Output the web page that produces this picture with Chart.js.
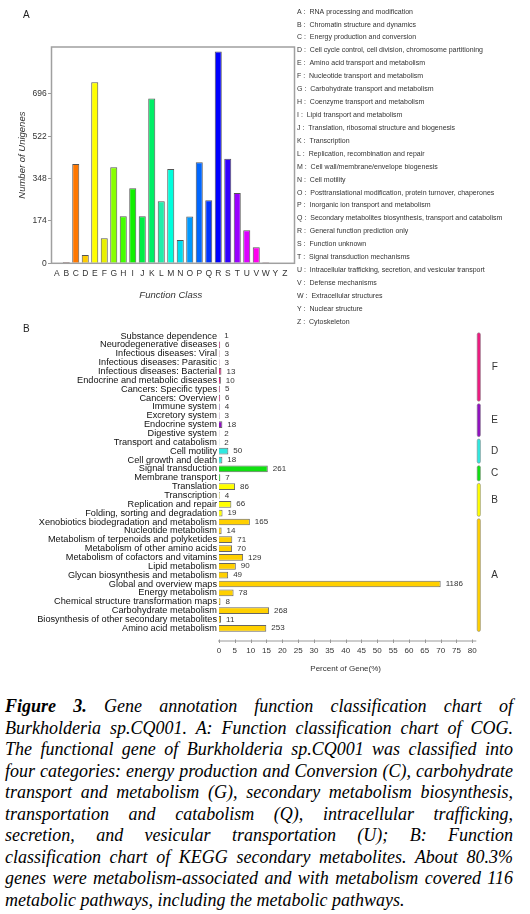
<!DOCTYPE html>
<html>
<head>
<meta charset="utf-8">
<script src="https://cdn.jsdelivr.net/npm/chart.js@4.4.0/dist/chart.umd.min.js"></script>
<style>
  html, body { margin: 0; padding: 0; background: #fff; }
  body { width: 530px; height: 914px; position: relative; overflow: hidden; }
  #cogWrap { position: absolute; left: 0; top: 0; width: 530px; height: 330px; }
  #keggWrap { position: absolute; left: 0; top: 320px; width: 530px; height: 360px; }
  #caption { position: absolute; left: 5px; top: 696px; width: 508px;
    font-family: "Liberation Serif", "Times New Roman", serif; font-style: italic;
    font-size: 18px; line-height: 21.5px; color: #000; }
  #caption div { text-align: justify; text-align-last: justify; }
  #caption div.last { text-align-last: left; }
</style>
</head>
<body>
<div id="cogWrap"><canvas id="cogChart"></canvas></div>
<div id="keggWrap"><canvas id="keggChart"></canvas></div>
<div id="caption">
  <div><b>Figure 3.</b> Gene annotation function classification chart of</div>
  <div>Burkholderia sp.CQ001. A: Function classification chart of COG.</div>
  <div>The functional gene of Burkholderia sp.CQ001 was classified into</div>
  <div>four categories: energy production and Conversion (C), carbohydrate</div>
  <div>transport and metabolism (G), secondary metabolism biosynthesis,</div>
  <div>transportation and catabolism (Q), intracellular trafficking,</div>
  <div>secretion, and vesicular transportation (U); B: Function</div>
  <div>classification chart of KEGG secondary metabolites. About 80.3%</div>
  <div>genes were metabolism-associated and with metabolism covered 116</div>
  <div class="last">metabolic pathways, including the metabolic pathways.</div>
</div>
<script>
// --- panel A: COG classes ---
const cogLetters = ['A','B','C','D','E','F','G','H','I','J','K','L','M','N','O','P','Q','R','S','T','U','V','W','Y','Z'];
const cogCounts = [2, 5, 408, 34, 744, 103, 395, 193, 308, 193, 677, 255, 388, 96, 192, 415, 259, 871, 430, 289, 136, 66, 4, 0, 0];
const cogTicks = [0, 174, 348, 522, 696];
const cogDescriptions = [
  'RNA processing and modification',
  'Chromatin structure and dynamics',
  'Energy production and conversion',
  'Cell cycle control, cell division, chromosome partitioning',
  'Amino acid transport and metabolism',
  'Nucleotide transport and metabolism',
  'Carbohydrate transport and metabolism',
  'Coenzyme transport and metabolism',
  'Lipid transport and metabolism',
  'Translation, ribosomal structure and biogenesis',
  'Transcription',
  'Replication, recombination and repair',
  'Cell wall/membrane/envelope biogenesis',
  'Cell motility',
  'Posttranslational modification, protein turnover, chaperones',
  'Inorganic ion transport and metabolism',
  'Secondary metabolites biosynthesis, transport and catabolism',
  'General function prediction only',
  'Function unknown',
  'Signal transduction mechanisms',
  'Intracellular trafficking, secretion, and vesicular transport',
  'Defense mechanisms',
  'Extracellular structures',
  'Nuclear structure',
  'Cytoskeleton'
];

// --- panel B: KEGG pathways ---
const keggLabels = [
  'Substance dependence', 'Neurodegenerative diseases', 'Infectious diseases: Viral',
  'Infectious diseases: Parasitic', 'Infectious diseases: Bacterial', 'Endocrine and metabolic diseases',
  'Cancers: Specific types', 'Cancers: Overview',
  'Immune system', 'Excretory system', 'Endocrine system', 'Digestive system',
  'Transport and catabolism', 'Cell motility', 'Cell growth and death',
  'Signal transduction', 'Membrane transport',
  'Translation', 'Transcription', 'Replication and repair', 'Folding, sorting and degradation',
  'Xenobiotics biodegradation and metabolism', 'Nucleotide metabolism',
  'Metabolism of terpenoids and polyketides', 'Metabolism of other amino acids',
  'Metabolism of cofactors and vitamins', 'Lipid metabolism', 'Glycan biosynthesis and metabolism',
  'Global and overview maps', 'Energy metabolism', 'Chemical structure transformation maps',
  'Carbohydrate metabolism', 'Biosynthesis of other secondary metabolites', 'Amino acid metabolism'
];
const keggCounts = [1, 6, 3, 3, 13, 10, 5, 6, 4, 3, 18, 2, 2, 50, 18, 261, 7, 86, 4, 66, 19,
  165, 14, 71, 70, 129, 90, 49, 1186, 78, 8, 268, 11, 253];
const keggTotalGenes = 1694;   // 1186 genes = 70 %
const keggClasses = ['F', 'E', 'D', 'C', 'B', 'A'];
const keggClassSizes = [8, 4, 3, 2, 4, 13];
const keggTicks = [0, 5, 10, 15, 20, 25, 30, 35, 40, 45, 50, 55, 60, 65, 70, 75, 80];

const FONT = '"Liberation Sans", Arial, sans-serif';
const cogColors = ['#8b1010','#a02a2a','#ff7700','#ffcc00','#ffff00','#e8f000','#88ff00','#44ff00',
  '#11f000','#00ee44','#00ee66','#22eeaa','#00ffdd','#00ddee','#0099ff','#0066ff','#0033ff',
  '#0000ff','#3300ff','#9900ff','#dd00ff','#ff00ee','#880033','#cccccc','#cccccc'];
const classColors = { F: '#ee1a80', E: '#9010c0', D: '#30e8e0', C: '#10e010', B: '#ffff00', A: '#ffd000' };

const keggRowClass = [];
keggClasses.forEach((c, g) => { for (let i = 0; i < keggClassSizes[g]; i++) keggRowClass.push(c); });
const keggPercent = keggCounts.map(v => v / keggTotalGenes * 100);

// frame, panel letter and class descriptions for A
const cogDecor = {
  id: 'cogDecor',
  afterDraw(chart) {
    const ctx = chart.ctx, a = chart.chartArea;
    ctx.save();
    ctx.strokeStyle = '#a0a0a0';
    ctx.lineWidth = 1.5;
    ctx.strokeRect(a.left - 0.5, a.top, a.right + 5 - a.left + 0.5, a.bottom - a.top);
    ctx.fillStyle = '#222';
    ctx.font = '10px ' + FONT;
    ctx.textAlign = 'center';
    ctx.textBaseline = 'middle';
    ctx.fillText('A', 26.3, 15);
    ctx.font = '7px ' + FONT;
    ctx.textAlign = 'left';
    ctx.fillStyle = '#333';
    cogLetters.forEach((l, i) => {
      ctx.fillText(l + ' :  ' + cogDescriptions[i], 297, 11.7 + i * 12.92);
    });
    ctx.restore();
  }
};

// value labels, axis line, class brackets for B
const keggDecor = {
  id: 'keggDecor',
  afterDraw(chart) {
    const ctx = chart.ctx, a = chart.chartArea, x = chart.scales.x, y = chart.scales.y;
    const meta = chart.getDatasetMeta(0);
    ctx.save();
    ctx.font = '8px ' + FONT;
    ctx.fillStyle = '#333';
    ctx.textAlign = 'left';
    ctx.textBaseline = 'middle';
    meta.data.forEach((bar, i) => ctx.fillText(String(keggCounts[i]), bar.x + 5, bar.y));

    const axisY = a.bottom + 8.3;
    ctx.strokeStyle = '#999';
    ctx.lineWidth = 1;
    ctx.beginPath();
    ctx.moveTo(a.left - 1, axisY);
    ctx.lineTo(a.right + 4, axisY);
    x.ticks.forEach(t => {
      const px = Math.round(x.getPixelForValue(t.value)) + 0.5;
      ctx.moveTo(px, axisY - 1.5);
      ctx.lineTo(px, axisY + 2);
    });
    ctx.stroke();

    let start = 0;
    keggClasses.forEach((cls, g) => {
      const end = start + keggClassSizes[g] - 1;
      const top = y.getPixelForValue(start) - 3.2;
      const bottom = y.getPixelForValue(end) + 3.2;
      const bx = a.right + 4.9, bw = 3.2;
      ctx.beginPath();
      ctx.roundRect(bx, top, bw, bottom - top, 1.6);
      ctx.fillStyle = classColors[cls];
      ctx.fill();
      ctx.strokeStyle = '#888';
      ctx.lineWidth = 0.6;
      ctx.stroke();
      ctx.fillStyle = '#333';
      ctx.font = '10px ' + FONT;
      ctx.textAlign = 'center';
      ctx.fillText(cls, a.right + 22.4, (top + bottom) / 2);
      start = end + 1;
    });

    ctx.fillStyle = '#222';
    ctx.font = '10px ' + FONT;
    ctx.fillText('B', 26.3, 9.3);
    ctx.restore();
  }
};

new Chart(document.getElementById('cogChart'), {
  type: 'bar',
  data: {
    labels: cogLetters,
    datasets: [{
      data: cogCounts,
      backgroundColor: cogColors,
      borderColor: '#555',
      borderWidth: 1,
      barPercentage: 0.74,
      categoryPercentage: 1
    }]
  },
  options: {
    responsive: true,
    maintainAspectRatio: false,
    animation: false,
    layout: { padding: { left: 0, top: 47, right: 240.5, bottom: 0 } },
    plugins: { legend: { display: false }, tooltip: { enabled: false } },
    scales: {
      x: {
        grid: { display: false, drawTicks: false },
        border: { display: false },
        ticks: { color: '#333', font: { size: 8.5, family: FONT }, padding: 5.6, autoSkip: false, maxRotation: 0 },
        title: { display: true, text: 'Function Class', color: '#333', align: 'center',
          font: { size: 9.5, style: 'italic', family: FONT }, padding: { top: 0, bottom: 28.6 } },
        afterFit: s => { s.height = 66.7; }
      },
      y: {
        min: 0,
        max: 889,
        grid: { drawOnChartArea: false, drawTicks: true, tickLength: 4, color: '#999' },
        border: { display: false },
        ticks: { color: '#333', font: { size: 8.5, family: FONT }, padding: 1.3 },
        afterBuildTicks: s => { s.ticks = cogTicks.map(v => ({ value: v })); },
        title: { display: true, text: 'Number of Unigenes', color: '#333',
          font: { size: 9.5, style: 'italic', family: FONT }, padding: { top: 16.3, bottom: 0 } },
        afterFit: s => { s.width = 52; }
      }
    }
  },
  plugins: [cogDecor]
});

new Chart(document.getElementById('keggChart'), {
  type: 'bar',
  data: {
    labels: keggLabels,
    datasets: [{
      data: keggPercent,
      backgroundColor: keggRowClass.map(c => classColors[c]),
      borderColor: '#666',
      borderWidth: 1,
      barPercentage: 0.76,
      categoryPercentage: 1
    }]
  },
  options: {
    indexAxis: 'y',
    responsive: true,
    maintainAspectRatio: false,
    animation: false,
    layout: { padding: { left: 0, top: 11.6, right: 57.7, bottom: 0 } },
    plugins: { legend: { display: false }, tooltip: { enabled: false } },
    scales: {
      x: {
        min: 0,
        max: 80,
        grid: { display: false, drawTicks: false },
        border: { display: false },
        afterBuildTicks: s => { s.ticks = keggTicks.map(v => ({ value: v })); },
        ticks: { color: '#333', font: { size: 8, family: FONT }, padding: 13.2, maxRotation: 0, autoSkip: false },
        title: { display: true, text: 'Percent of Gene(%)', color: '#333',
          font: { size: 8, family: FONT }, padding: { top: 0, bottom: 6.2 } },
        afterFit: s => { s.height = 47.3; }
      },
      y: {
        grid: { display: false, drawTicks: false },
        border: { display: false },
        ticks: { color: '#111', font: { size: 9.2, family: FONT }, padding: 2, autoSkip: false },
        afterFit: s => { s.width = 219; }
      }
    }
  },
  plugins: [keggDecor]
});
</script>
</body>
</html>
